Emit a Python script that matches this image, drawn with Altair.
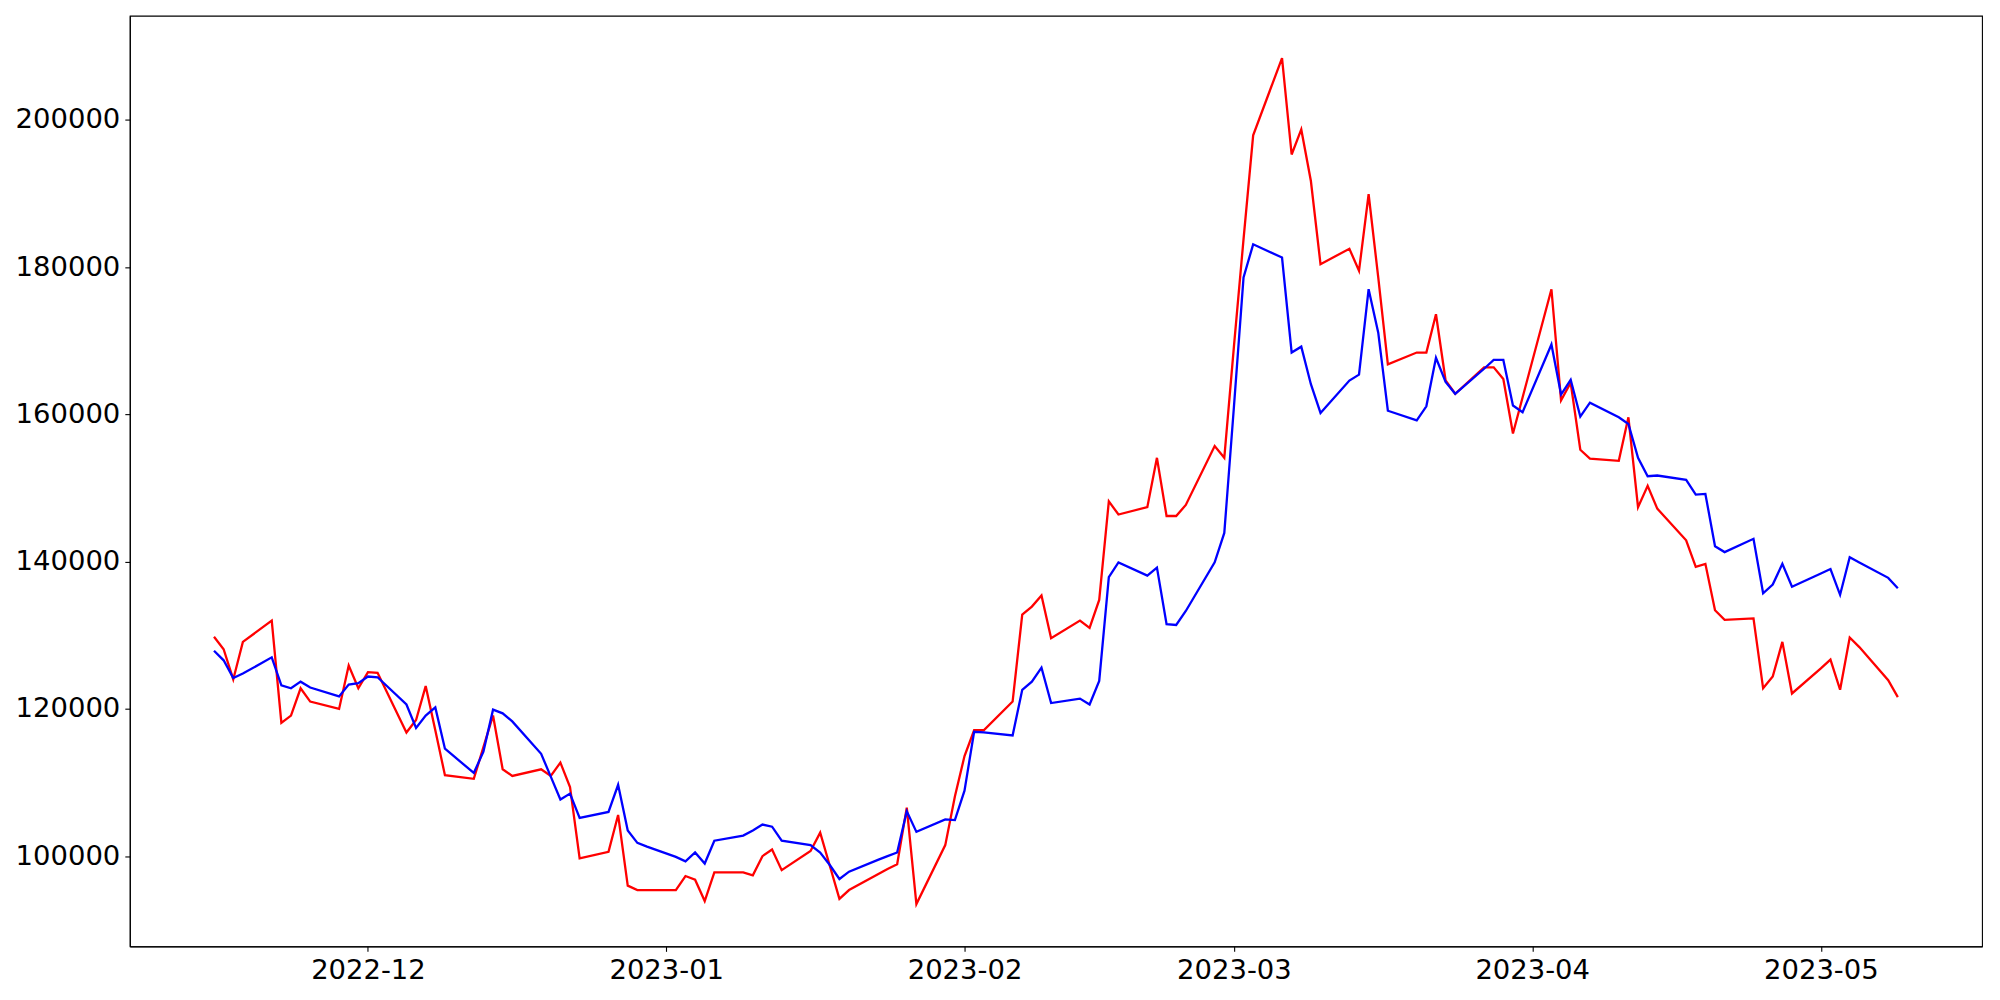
import altair as alt
import pandas as pd

# Business days from 2022-11-15 to 2023-05-09
dates = pd.bdate_range("2022-11-15", "2023-05-09")

red_values = [
    129800, 128100, 124000, 129100,
    132000, 118100, 119100, 122800, 121000,
    120000, 125900, 122800, 125000, 124900,
    116800, 118500, 123100, 117100, 111000,
    110500, 114800, 119100, 111800, 110900,
    111800, 110900, 112700, 109400, 99700,
    100600, 105600, 96000, 95400, 95400,
    95400, 97300, 96800, 93900, 97800,
    97800, 97400, 100000, 100900, 98100,
    100700, 103200, 98700, 94200, 95400,
    97550, 98250, 98900, 106600, 93500,
    101500, 108100, 113600, 117100, 117100,
    121000, 132800, 133900, 135400, 129600,
    132000, 131000, 134800, 148200, 146400,
    147400, 154100, 146200, 146200, 147700,
    155700, 154100, 169200, 183800, 197900,
    208400, 195300, 198700, 191700, 180400,
    182500, 179500, 189900, 178600, 166800,
    168400, 168400, 173600, 164600, 162800,
    166400, 166400, 164800, 157400, 162300,
    177000, 161900, 164300, 155200, 154000,
    153700, 159600, 147400, 150300, 147200,
    142900, 139300, 139700, 133400, 132100,
    132300, 122800, 124400, 129100, 122100,
    125500, 126700, 122600, 129700, 128400,
    123900, 121600,
]

blue_values = [
    127900, 126600, 124200, 124800,
    127000, 123200, 122800, 123700, 122900,
    121700, 123300, 123500, 124400, 124300,
    120600, 117400, 119100, 120200, 114600,
    111300, 114200, 119900, 119400, 118300,
    113900, 110800, 107700, 108500, 105200,
    106000, 109700, 103500, 101800, 101300,
    99900, 99300, 100500, 99000, 102100,
    102800, 103500, 104300, 104000, 102100,
    101500, 100500, 98800, 96900, 97900,
    99500, 100000, 100500, 106100, 103300,
    105000, 104900, 108900, 116900, 116800,
    116400, 122600, 123700, 125600, 120800,
    121400, 120600, 123800, 137900, 139900,
    138100, 139200, 131500, 131400, 133300,
    139900, 143900, 161000, 178600, 183100,
    181300, 168400, 169200, 164100, 160200,
    164600, 165400, 177000, 171100, 160500,
    159200, 161100, 167700, 164400, 162800,
    166200, 167400, 167400, 161200, 160300,
    169500, 162700, 164700, 159700, 161600,
    159600, 158700, 154100, 151600, 151700,
    151100, 149100, 149200, 142100, 141300,
    143100, 135700, 136900, 139700, 136600,
    138400, 139000, 135500, 140600, 139900,
    137800, 136400,
]

y_ticks = [100000, 120000, 140000, 160000, 180000, 200000]

df_red = pd.DataFrame({"date": dates, "value": red_values})
df_blue = pd.DataFrame({"date": dates, "value": blue_values})

# matplotlib-like 5% margins
span = dates.max() - dates.min()
dmin = dates.min() - 0.05 * span
dmax = dates.max() + 0.05 * span
all_vals = red_values + blue_values
vspan = max(all_vals) - min(all_vals)
ymin = min(all_vals) - 0.05 * vspan
ymax = max(all_vals) + 0.05 * vspan


def to_dt(ts):
    return alt.DateTime(year=ts.year, month=ts.month, date=ts.day,
                        hours=ts.hour, minutes=ts.minute)


FONT = "DejaVu Sans"
FS = 27.5

x_enc = alt.X(
    "date:T",
    scale=alt.Scale(domain=[to_dt(dmin), to_dt(dmax)]),
    axis=alt.Axis(
        format="%Y-%m",
        tickCount={"interval": "month", "step": 1},
        title=None,
        grid=False,
        labelFont=FONT,
        labelFontSize=FS,
        labelColor="black",
        labelPadding=5,
        labelFlush=False,
        labelOverlap=False,
        tickColor="black",
        tickSize=5,
        tickWidth=1.1,
        domainColor="black",
        domainWidth=1.1,
    ),
)
y_enc = alt.Y(
    "value:Q",
    scale=alt.Scale(domain=[ymin, ymax], nice=False, zero=False),
    axis=alt.Axis(
        values=y_ticks,
        format="d",
        title=None,
        grid=False,
        labelFont=FONT,
        labelFontSize=FS,
        labelColor="black",
        labelPadding=5,
        labelFlush=False,
        tickColor="black",
        tickSize=5,
        tickWidth=1.1,
        domainColor="black",
        domainWidth=1.1,
    ),
)

red_line = alt.Chart(df_red).mark_line(color="#ff0000", strokeWidth=2.3).encode(x=x_enc, y=y_enc)
blue_line = alt.Chart(df_blue).mark_line(color="#0000ff", strokeWidth=2.3).encode(x=x_enc, y=y_enc)

chart = (
    alt.layer(red_line, blue_line)
    .properties(
        width=1855,
        height=932,
        autosize=alt.AutoSizeParams(type="none"),
        padding={"left": 122, "top": 7, "right": 10, "bottom": 50},
        background="white",
    )
    .configure_view(stroke="black", strokeWidth=1.1)
)

chart.save("out.html", embed_options={"renderer": "svg", "actions": False})
